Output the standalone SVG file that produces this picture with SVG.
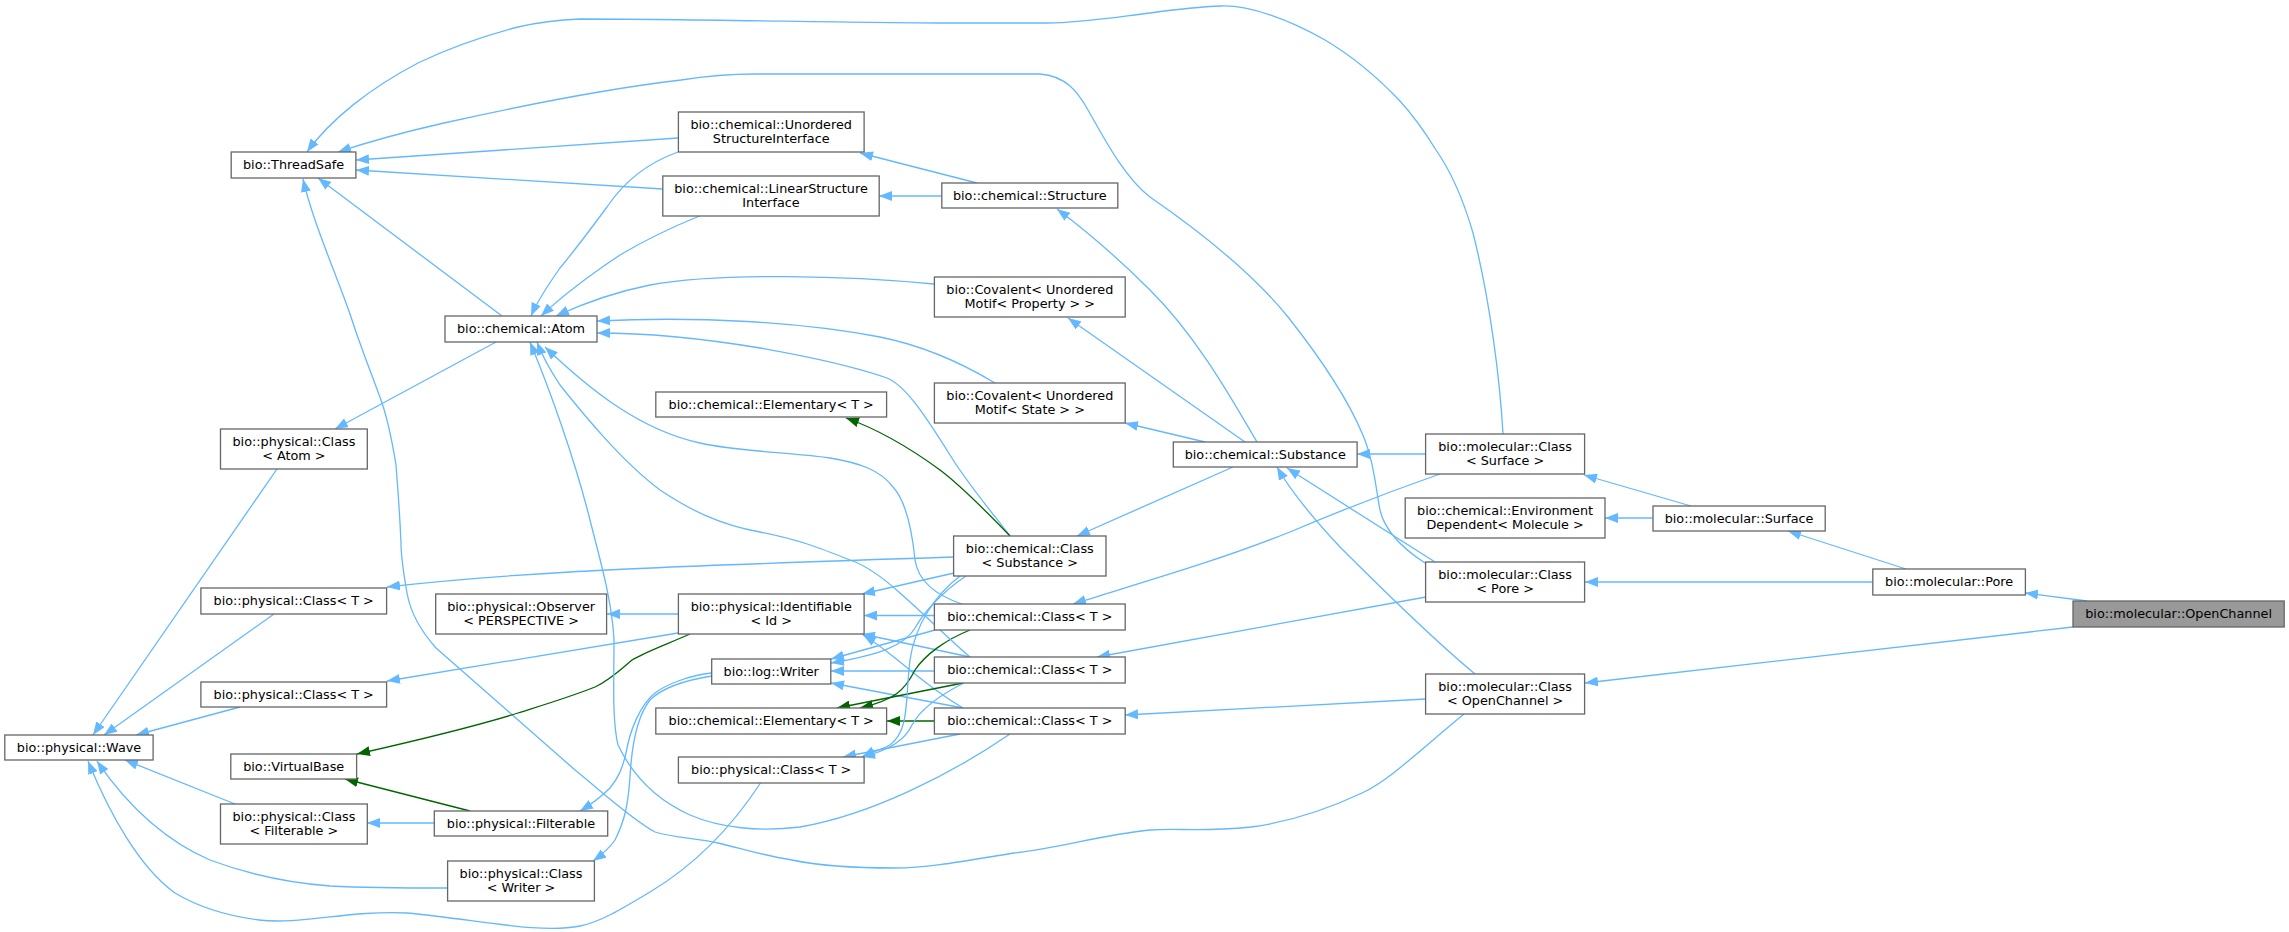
<svg xmlns="http://www.w3.org/2000/svg" width="2289" height="932" viewBox="0 0 2289 932">
<style>
.n rect{fill:#fff;stroke:#666;stroke-width:1.3}
.n text{font-family:"DejaVu Sans",sans-serif;font-size:12.8px;text-anchor:middle;fill:#000}
.e{fill:none;stroke:#63b8ff;stroke-width:1.3;marker-end:url(#ab)}
.g{fill:none;stroke:#006400;stroke-width:1.3;marker-end:url(#ag)}
</style>
<defs>
<marker id="ab" markerUnits="userSpaceOnUse" viewBox="0 0 13 10" markerWidth="13" markerHeight="10" refX="13" refY="5" orient="auto"><path d="M0,0 L13,5 L0,10 z" fill="#63b8ff"/></marker>
<marker id="ag" markerUnits="userSpaceOnUse" viewBox="0 0 13 10" markerWidth="13" markerHeight="10" refX="13" refY="5" orient="auto"><path d="M0,0 L13,5 L0,10 z" fill="#006400"/></marker>
</defs>
<rect width="2289" height="932" fill="#fff"/>
<g id="edges">
<path class="e" d="M1503,434 C1500,380 1490,300 1473,233 C1462,195 1450,170 1436,150 C1425,132 1412,114 1399,100 C1378,78 1352,56 1325,40 C1290,20 1250,5 1221,6 C1195,7 1172,10 1150,13 C1110,18 1080,23 1047,23 L940,23 C850,23 700,19 580,19 C555,20 535,23 518,27 C480,37 445,50 418,63 C370,88 330,120 307,152"/>
<path class="e" d="M1425,563 C1405,550 1385,532 1380,510 C1376,490 1374,460 1362,433 C1348,400 1322,360 1288,317 C1250,270 1192,226 1150,197 C1125,178 1105,140 1088,110 C1078,92 1066,76 1040,74 L755,74 C720,74 700,77 681,80 C630,86 560,97 444,123 C400,133 365,143 338,152"/>
<path class="e" d="M678,138 L356,160"/>
<path class="e" d="M663,189 L356,170"/>
<path class="e" d="M502,316 L318,178"/>
<path class="e" d="M1464,714 C1420,750 1390,780 1362,793 C1330,808 1290,822 1251,827 C1200,832 1180,828 1150,830 C1100,835 1060,848 1014,853 C970,860 930,868 895,868 C850,868 820,866 792,860 C760,855 740,848 718,843 C695,838 675,838 655,832 C630,818 600,790 575,770 L436,648 C420,630 410,610 407,593 C403,570 401,555 401,543 C400,520 398,490 396,465 C392,440 388,420 381,400 C370,370 360,345 351,317 C340,285 325,250 314,217 C310,205 306,192 303,179"/>
<path class="e" d="M496,342 L335,429"/>
<path class="e" d="M277,469 L93,735"/>
<path class="e" d="M274,614 L104,735"/>
<path class="e" d="M240,707 L136,735"/>
<path class="e" d="M235,804 L125,760"/>
<path class="e" d="M447.6,888 C410,888 370,888 330,886 C290,883 250,875 210,860 C170,843 130,810 97,761"/>
<path class="e" d="M760.5,783 C735,822 700,862 650,892 C620,910 600,922 580,926 C540,934 480,920 407,913 C350,910 300,925 259,920 C220,915 195,905 175,893 C140,868 110,815 88,761"/>
<path class="e" d="M953.6,557 C800,562 650,567 570,572 C500,576 430,582 387,587"/>
<path class="e" d="M678,633 L387,681"/>
<path class="g" d="M690,634 C665,645 645,652 632,660 C620,670 610,680 595,687 C570,697 540,706 518,713 C470,728 410,742 357,754"/>
<path class="g" d="M470,811 L345,779"/>
<path class="e" d="M434,823 L367,823"/>
<path class="e" d="M711.7,673 C690,675 665,685 655,693 C640,705 630,730 626,753 C622,770 618,778 610,788 C600,798 590,805 580,811"/>
<path class="e" d="M711.7,676 C680,681 660,690 650,700 C638,715 632,740 630,777 C628,805 625,820 615,840 C608,850 600,856 593,861"/>
<path class="e" d="M678,614 L607,614"/>
<path class="e" d="M954,573 L862,594"/>
<path class="e" d="M934,615.5 L864,615.5"/>
<path class="e" d="M970,657 L862,634"/>
<path class="e" d="M963,708 C935,692 910,670 895,658 C885,650 875,642 863,635"/>
<path class="e" d="M966,576 C945,590 925,610 915,628 C905,645 880,655 831,663"/>
<path class="e" d="M935,630 L831,659"/>
<path class="e" d="M934,671 L831,671"/>
<path class="e" d="M963,708 L831,683"/>
<path class="g" d="M970,630 C945,640 925,655 915,670 C905,690 895,700 860,708"/>
<path class="g" d="M963,683 L837,708"/>
<path class="g" d="M934,721 L887,721"/>
<path class="e" d="M960,734 L843,757"/>
<path class="e" d="M960,576 C935,595 915,625 910,660 C905,700 910,730 890,745 C880,750 870,753 862,757"/>
<path class="e" d="M964,683 C940,695 920,710 912,725 C905,740 890,750 862,757"/>
<path class="e" d="M678,152 C650,162 625,180 607,207 C590,230 575,250 560,268 C548,285 538,300 531,316"/>
<path class="e" d="M699.5,216 C670,228 645,240 620,255 C590,275 560,298 541,316"/>
<path class="e" d="M934,284 C850,276 720,272 650,285 C610,293 580,305 556,316"/>
<path class="e" d="M995,383 C960,362 920,345 880,337 C800,322 700,316 597,321"/>
<path class="e" d="M1010,536 C990,510 965,480 950,455 C925,415 905,385 887,378 C850,365 800,355 760,348 C700,338 640,333 597,333"/>
<path class="e" d="M962,604 C935,595 918,580 915,560 C912,530 905,500 893,487 C880,470 860,463 830,458 C790,452 740,452 700,443 C640,430 590,390 545,347"/>
<path class="e" d="M970,657 C950,640 925,615 900,593 C880,575 865,565 850,560 C820,548 800,540 760,532 C720,525 690,510 660,490 C620,460 580,410 560,385 C550,370 542,355 537,342"/>
<path class="e" d="M1010,734 C950,775 870,815 800,827 C760,832 720,828 690,815 C650,797 630,770 618,745 C612,720 614,680 614,640 C612,600 600,560 590,520 C575,460 550,390 530,342"/>
<path class="e" d="M1426,454 L1357,454"/>
<path class="e" d="M1435,562 L1287,468"/>
<path class="e" d="M1475,674 C1440,645 1390,597 1340,547 C1310,515 1290,490 1277,467"/>
<path class="e" d="M1257,442 C1235,405 1200,340 1150,290 C1115,255 1085,230 1057,209"/>
<path class="e" d="M1245,442 L1068,318"/>
<path class="e" d="M1205,442 L1125,423"/>
<path class="e" d="M1233,467 L1077,536"/>
<path class="e" d="M1440,474 C1380,495 1330,515 1290,532 C1220,560 1150,580 1073,604"/>
<path class="e" d="M1426,597 L1097,657"/>
<path class="e" d="M1426,699 L1125,715"/>
<path class="e" d="M1691,506 L1584,475"/>
<path class="e" d="M1653,518 L1605,518"/>
<path class="e" d="M1873,582 L1585,582"/>
<path class="e" d="M1906,569 L1788,531"/>
<path class="e" d="M2087,601 L2025,593"/>
<path class="e" d="M2073,627 L1585,683"/>
<path class="g" d="M1010,536 C985,510 960,485 940,470 C910,448 880,430 846,418"/>
<path class="e" d="M977,183 L860,153"/>
<path class="e" d="M942,196 L879,196"/>
</g>
<g id="n_threadsafe" class="n"><rect x="231.2" y="152" width="124.7" height="26"/><text x="293.6" y="169">bio::ThreadSafe</text></g>
<g id="n_atom" class="n"><rect x="445" y="316" width="152" height="26"/><text x="521" y="333">bio::chemical::Atom</text></g>
<g id="n_pclass_atom" class="n"><rect x="220.5" y="429" width="146.8" height="40"/><text x="293.9" y="445.5">bio::physical::Class</text><text x="293.9" y="459.5">&lt; Atom &gt;</text></g>
<g id="n_wave" class="n"><rect x="4.8" y="735" width="148.3" height="25"/><text x="79" y="751.5">bio::physical::Wave</text></g>
<g id="n_pclass_t1" class="n"><rect x="200.9" y="588" width="185.7" height="26"/><text x="293.7" y="605">bio::physical::Class&lt; T &gt;</text></g>
<g id="n_pclass_t2" class="n"><rect x="200.9" y="682" width="185.7" height="25"/><text x="293.7" y="698.5">bio::physical::Class&lt; T &gt;</text></g>
<g id="n_virtualbase" class="n"><rect x="230.8" y="754" width="125.8" height="25"/><text x="293.7" y="770.5">bio::VirtualBase</text></g>
<g id="n_pclass_filterable" class="n"><rect x="220.5" y="804" width="146.8" height="40"/><text x="293.9" y="820.5">bio::physical::Class</text><text x="293.9" y="834.5">&lt; Filterable &gt;</text></g>
<g id="n_filterable" class="n"><rect x="434.3" y="811" width="173.4" height="25"/><text x="521" y="827.5">bio::physical::Filterable</text></g>
<g id="n_pclass_writer" class="n"><rect x="447.6" y="861" width="146.8" height="40"/><text x="521" y="877.5">bio::physical::Class</text><text x="521" y="891.5">&lt; Writer &gt;</text></g>
<g id="n_observer" class="n"><rect x="435.7" y="594" width="170.9" height="40"/><text x="521.1" y="610.5">bio::physical::Observer</text><text x="521.1" y="624.5">&lt; PERSPECTIVE &gt;</text></g>
<g id="n_unordered_si" class="n"><rect x="678.4" y="112" width="185.7" height="40"/><text x="771.2" y="128.5">bio::chemical::Unordered</text><text x="771.2" y="142.5">StructureInterface</text></g>
<g id="n_linear_si" class="n"><rect x="662.8" y="176" width="216.4" height="40"/><text x="771" y="192.5">bio::chemical::LinearStructure</text><text x="771" y="206.5">Interface</text></g>
<g id="n_elementary_top" class="n"><rect x="655.8" y="392" width="230.8" height="25"/><text x="771.2" y="408.5">bio::chemical::Elementary&lt; T &gt;</text></g>
<g id="n_identifiable" class="n"><rect x="678.4" y="594" width="185.7" height="40"/><text x="771.2" y="610.5">bio::physical::Identifiable</text><text x="771.2" y="624.5">&lt; Id &gt;</text></g>
<g id="n_writer" class="n"><rect x="711.7" y="659" width="119.1" height="25"/><text x="771.2" y="675.5">bio::log::Writer</text></g>
<g id="n_elementary_bot" class="n"><rect x="655.8" y="708" width="230.8" height="26"/><text x="771.2" y="725">bio::chemical::Elementary&lt; T &gt;</text></g>
<g id="n_pclass_t3" class="n"><rect x="678.4" y="757" width="185.7" height="26"/><text x="771.2" y="774">bio::physical::Class&lt; T &gt;</text></g>
<g id="n_structure" class="n"><rect x="941.8" y="183" width="176" height="25"/><text x="1029.8" y="199.5">bio::chemical::Structure</text></g>
<g id="n_cov_property" class="n"><rect x="934.4" y="277" width="190.8" height="40"/><text x="1029.8" y="293.5">bio::Covalent&lt; Unordered</text><text x="1029.8" y="307.5">Motif&lt; Property &gt; &gt;</text></g>
<g id="n_cov_state" class="n"><rect x="934.4" y="383" width="190.8" height="40"/><text x="1029.8" y="399.5">bio::Covalent&lt; Unordered</text><text x="1029.8" y="413.5">Motif&lt; State &gt; &gt;</text></g>
<g id="n_cclass_substance" class="n"><rect x="953.6" y="536" width="152.4" height="40"/><text x="1029.8" y="552.5">bio::chemical::Class</text><text x="1029.8" y="566.5">&lt; Substance &gt;</text></g>
<g id="n_cclass_t1" class="n"><rect x="934.4" y="604" width="190.8" height="26"/><text x="1029.8" y="621">bio::chemical::Class&lt; T &gt;</text></g>
<g id="n_cclass_t2" class="n"><rect x="934.4" y="657" width="190.8" height="26"/><text x="1029.8" y="674">bio::chemical::Class&lt; T &gt;</text></g>
<g id="n_cclass_t3" class="n"><rect x="934.4" y="708" width="190.8" height="26"/><text x="1029.8" y="725">bio::chemical::Class&lt; T &gt;</text></g>
<g id="n_substance" class="n"><rect x="1173.3" y="442" width="183.8" height="25"/><text x="1265.2" y="458.5">bio::chemical::Substance</text></g>
<g id="n_mclass_surface" class="n"><rect x="1425.6" y="434" width="159" height="40"/><text x="1505.1" y="450.5">bio::molecular::Class</text><text x="1505.1" y="464.5">&lt; Surface &gt;</text></g>
<g id="n_envdep" class="n"><rect x="1405.2" y="498" width="199.8" height="40"/><text x="1505.1" y="514.5">bio::chemical::Environment</text><text x="1505.1" y="528.5">Dependent&lt; Molecule &gt;</text></g>
<g id="n_mclass_pore" class="n"><rect x="1425.6" y="562" width="159" height="40"/><text x="1505.1" y="578.5">bio::molecular::Class</text><text x="1505.1" y="592.5">&lt; Pore &gt;</text></g>
<g id="n_mclass_openchannel" class="n"><rect x="1425.6" y="674" width="159" height="40"/><text x="1505.1" y="690.5">bio::molecular::Class</text><text x="1505.1" y="704.5">&lt; OpenChannel &gt;</text></g>
<g id="n_surface" class="n"><rect x="1653" y="506" width="172.2" height="25"/><text x="1739.1" y="522.5">bio::molecular::Surface</text></g>
<g id="n_pore" class="n"><rect x="1872.8" y="569" width="152.6" height="26"/><text x="1949.1" y="586">bio::molecular::Pore</text></g>
<g id="n_openchannel" class="n"><rect x="2073" y="601" width="211.2" height="26" style="fill:#999"/><text x="2178.6" y="618">bio::molecular::OpenChannel</text></g>
</svg>
